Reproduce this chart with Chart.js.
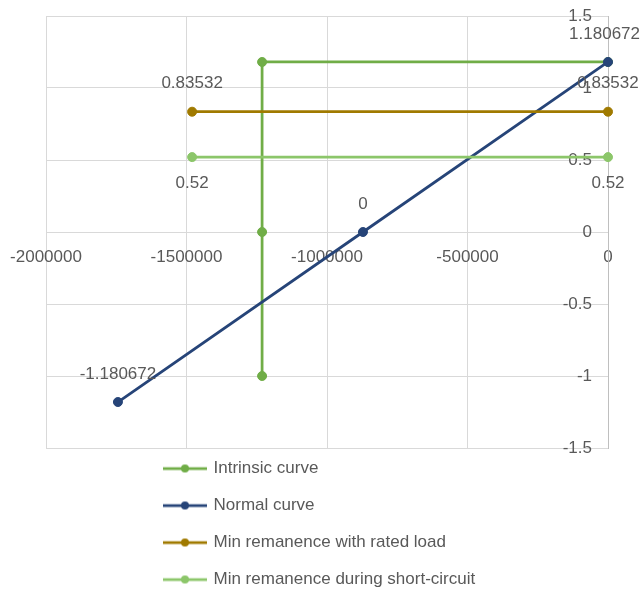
<!DOCTYPE html>
<html>
<head>
<meta charset="utf-8">
<script src="https://cdn.jsdelivr.net/npm/chart.js@4/dist/chart.umd.min.js"></script>
<style>
  html, body { margin: 0; padding: 0; background: #ffffff; }
  #wrap { width: 642px; height: 591px; }
</style>
</head>
<body>
<div id="wrap"><canvas id="c" width="642" height="591"></canvas></div>
<script>
// ---- data ----
const seriesNames = [
  'Intrinsic curve',
  'Normal curve',
  'Min remanence with rated load',
  'Min remanence during short-circuit'
];
const intrinsicX = [-1231000, -1231000, -1231000, 0];
const intrinsicY = [-1, 0, 1.180672, 1.180672];
const normalX = [-1744000, -872000, 0];
const normalY = [-1.180672, 0, 1.180672];
const ratedLoadX = [-1480000, 0];
const ratedLoadY = [0.83532, 0.83532];
const shortCircuitX = [-1480000, 0];
const shortCircuitY = [0.52, 0.52];
const xTickValues = [-2000000, -1500000, -1000000, -500000, 0];
const xTickLabels = ['-2000000', '-1500000', '-1000000', '-500000', '0'];
const yTickValues = [-1.5, -1, -0.5, 0, 0.5, 1, 1.5];
const yTickLabels = ['-1.5', '-1', '-0.5', '0', '0.5', '1', '1.5'];

// ---- styling ----
const FONT = '"Liberation Sans", Arial, sans-serif';
const TEXT = '#595959';
const colors = ['#70AD47', '#264478', '#A07A00', '#8CC66A'];

const toPoints = (xs, ys) => xs.map((x, i) => ({ x: x, y: ys[i] }));

function legendSample(color) {
  const c = document.createElement('canvas');
  c.width = 44; c.height = 10;
  const g = c.getContext('2d');
  g.strokeStyle = color; g.lineWidth = 2.75;
  g.beginPath(); g.moveTo(0, 5); g.lineTo(44, 5); g.stroke();
  g.fillStyle = color;
  g.beginPath(); g.arc(22, 5, 4, 0, Math.PI * 2); g.fill();
  return c;
}

function makeDataset(i, pts, labelPos, order) {
  return {
    label: seriesNames[i],
    data: pts,
    borderColor: colors[i],
    backgroundColor: colors[i],
    pointBackgroundColor: colors[i],
    pointBorderColor: colors[i],
    borderWidth: 2.75,
    pointRadius: 4.5,
    pointBorderWidth: 1,
    showLine: true,
    tension: 0,
    clip: false,
    order: order,
    valueLabel: labelPos
  };
}

const valueLabels = {
  id: 'valueLabels',
  afterDatasetsDraw(chart) {
    const ctx = chart.ctx;
    ctx.save();
    ctx.font = '17px ' + FONT;
    ctx.fillStyle = TEXT;
    ctx.textAlign = 'center';
    ctx.textBaseline = 'middle';
    chart.data.datasets.forEach((ds, i) => {
      if (!ds.valueLabel) return;
      const meta = chart.getDatasetMeta(i);
      meta.data.forEach((pt, j) => {
        const t = String(ds.data[j].y);
        const w = ctx.measureText(t).width;
        const x = Math.min(pt.x, chart.width - 2 - w / 2);
        const dy = ds.valueLabel === 'above' ? -28 : 26;
        ctx.fillText(t, x, pt.y + dy);
      });
    });
    ctx.restore();
  }
};

const legendPlacement = {
  id: 'legendPlacement',
  afterLayout(chart) {
    const lg = chart.legend;
    if (!lg) return;
    lg.left = 145;
    lg.right = 640;
    lg.top = 440;
    lg.bottom = 900;
    lg.width = lg.right - lg.left;
    lg.height = lg.bottom - lg.top;
  }
};

new Chart(document.getElementById('c'), {
  type: 'scatter',
  data: {
    datasets: [
      makeDataset(0, toPoints(intrinsicX, intrinsicY), null, 4),
      makeDataset(1, toPoints(normalX, normalY), 'above', 3),
      makeDataset(2, toPoints(ratedLoadX, ratedLoadY), 'above', 2),
      makeDataset(3, toPoints(shortCircuitX, shortCircuitY), 'below', 1)
    ]
  },
  options: {
    responsive: false,
    animation: false,
    devicePixelRatio: 1,
    layout: { padding: { left: 46, top: 16, right: 34, bottom: 143 } },
    scales: {
      x: {
        type: 'linear',
        min: -2000000,
        max: 0,
        position: { y: 0 },
        afterBuildTicks: (s) => { s.ticks = xTickValues.map(v => ({ value: v })); },
        ticks: {
          color: TEXT,
          font: { family: FONT, size: 17 },
          padding: 3,
          maxRotation: 0,
          autoSkip: false,
          callback: (v) => xTickLabels[xTickValues.indexOf(v)]
        },
        grid: { color: '#D9D9D9', lineWidth: 1, drawTicks: true, tickLength: 12, tickColor: 'rgba(0,0,0,0)' },
        border: { color: '#D9D9D9', width: 1 }
      },
      y: {
        type: 'linear',
        min: -1.5,
        max: 1.5,
        position: 'right',
        afterBuildTicks: (s) => { s.ticks = yTickValues.map(v => ({ value: v })); },
        ticks: {
          color: TEXT,
          font: { family: FONT, size: 17 },
          mirror: true,
          padding: -16,
          autoSkip: false,
          callback: (v) => yTickLabels[yTickValues.indexOf(v)]
        },
        grid: { color: '#D9D9D9', lineWidth: 1, drawTicks: true, tickLength: 16, tickColor: 'rgba(0,0,0,0)' },
        border: { color: '#BFBFBF', width: 1 }
      }
    },
    plugins: {
      tooltip: { enabled: false },
      legend: {
        position: 'chartArea',
        align: 'start',
        labels: {
          color: TEXT,
          font: { family: FONT, size: 17 },
          usePointStyle: true,
          pointStyleWidth: 40,
          padding: 20,
          generateLabels(chart) {
            const items = Chart.defaults.plugins.legend.labels.generateLabels(chart);
            items.sort((a, b) => a.datasetIndex - b.datasetIndex);
            items.forEach(it => {
              it.pointStyle = legendSample(chart.data.datasets[it.datasetIndex].borderColor);
            });
            return items;
          }
        }
      }
    }
  },
  plugins: [valueLabels, legendPlacement]
});
</script>
</body>
</html>
